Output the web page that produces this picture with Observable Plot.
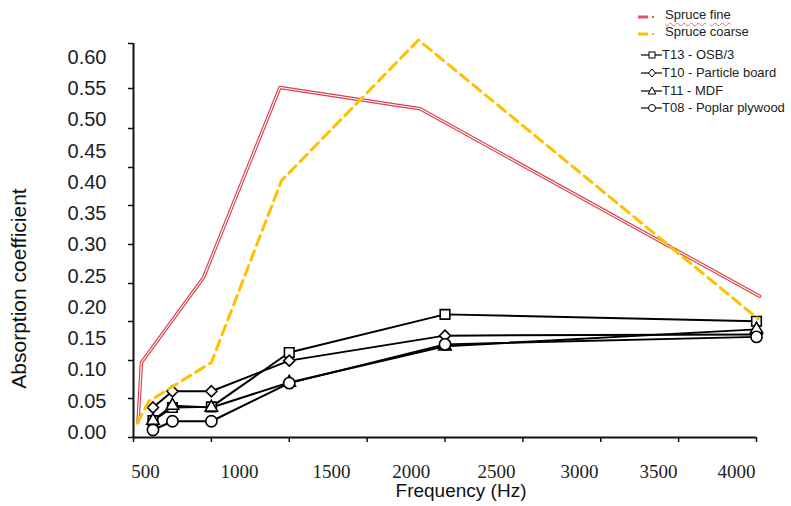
<!DOCTYPE html>
<html><head><meta charset="utf-8">
<script src="https://cdn.jsdelivr.net/npm/d3@7"></script>
<script src="https://cdn.jsdelivr.net/npm/@observablehq/plot@0.6"></script>
<style>
body{margin:0;background:#fff;}
#wrap{position:relative;width:791px;height:506px;font-family:"Liberation Sans",Arial,sans-serif;}
.lg{position:absolute;display:flex;align-items:center;height:16px;line-height:16px;font-size:13px;color:#222;white-space:nowrap;}
.lg svg{display:block;}
.sq{text-decoration:underline wavy #e07070;text-decoration-thickness:1px;text-underline-offset:3px;}
</style></head><body><div id="wrap"></div>
<script>
// ---- data ----
const boardFreq = [125, 250, 500, 1000, 2000, 4000];
const t13 = [0.019, 0.040, 0.041, 0.128, 0.189, 0.178];
const t10 = [0.040, 0.066, 0.066, 0.115, 0.155, 0.157];
const t11 = [0.019, 0.043, 0.040, 0.080, 0.138, 0.165];
const t08 = [0.004, 0.018, 0.018, 0.079, 0.141, 0.153];
const fineFreq = [29, 51, 450, 940, 1840, 4020];
const spruceFine = [0.017, 0.112, 0.248, 0.552, 0.518, 0.218];
const coarseFreq = [24, 99, 500, 950, 1830, 4010];
const spruceCoarse = [0.015, 0.050, 0.112, 0.403, 0.628, 0.182];
const boardNames = ["T13 - OSB/3", "T10 - Particle board", "T11 - MDF", "T08 - Poplar plywood"];
const spruceNames = ["Spruce fine", "Spruce coarse"];
const xTickMarks = [0, 500, 1000, 1500, 2000, 2500, 3000, 3500, 4000];
const xTickLabels = ["500", "1000", "1500", "2000", "2500", "3000", "3500", "4000"];
const xTickLabelAt = [77, 680, 1271, 1784, 2330, 2863, 3370, 3871];
const yTickMarks = [-0.008, 0.0544, 0.1152, 0.1776, 0.2384, 0.3008, 0.3632, 0.424, 0.4864, 0.5504, 0.6224];
const yTickLabels = ["0.00","0.05","0.10","0.15","0.20","0.25","0.30","0.35","0.40","0.45","0.50","0.55","0.60"];
const yTickLabelAt = [0, 0.05, 0.10, 0.15, 0.20, 0.25, 0.30, 0.35, 0.40, 0.45, 0.50, 0.55, 0.60];
const yDomain = [-0.008, 0.6224];
const xDomain = [0, 4000];

// ---- tables ----
const boardSeries = [t13, t10, t11, t08];
const boardSymbols = ["square", "diamond2", "triangle", "circle"];
const boardR = [5.4, 5.0, 4.6, 5.6];
const boardData = boardSeries.flatMap((vals, s) => vals.map((v, i) => ({series: boardNames[s], f: boardFreq[i], a: v})));
const fineData = fineFreq.map((f, i) => ({f, a: spruceFine[i]}));
const coarseData = coarseFreq.map((f, i) => ({f, a: spruceCoarse[i]}));
const xLab = xTickLabels.map((t, i) => ({t, v: xTickLabelAt[i]}));
const yLab = yTickLabels.map((t, i) => ({t, v: yTickLabelAt[i]}));

const sans = "Liberation Sans, Arial, sans-serif";
const serif = "Liberation Serif, Times New Roman, serif";

const marks = [
  Plot.ruleX([0], {stroke: "#111", strokeWidth: 2}),
  Plot.ruleY([yDomain[0]], {stroke: "#111", strokeWidth: 2}),
  Plot.axisX(xTickMarks, {tickSize: 5, tickFormat: () => "", strokeWidth: 1.5, label: null}),
  Plot.axisY(yTickMarks, {tickSize: 5, tickFormat: () => "", strokeWidth: 1.5, label: null}),
  Plot.text(yLab, {y: "v", text: "t", frameAnchor: "left", textAnchor: "end", lineAnchor: "middle", dx: -27, fontSize: 20, fontFamily: sans, fill: "#222"}),
  Plot.text(xLab, {x: "v", text: "t", frameAnchor: "bottom", textAnchor: "middle", lineAnchor: "middle", dy: 34, fontSize: 19, fontFamily: serif, fill: "#222"}),
  Plot.text(["Absorption coefficient"], {text: d => d, frameAnchor: "left", textAnchor: "middle", lineAnchor: "middle", rotate: -90, dx: -114, dy: 48, fontSize: 21, fontFamily: sans, fill: "#111"}),
  Plot.text(["Frequency (Hz)"], {text: d => d, frameAnchor: "bottom", textAnchor: "middle", lineAnchor: "middle", dx: 16, dy: 53, fontSize: 19, fontFamily: sans, fill: "#111"}),
  Plot.line(boardData, {x: "f", y: "a", z: "series", stroke: "#000", strokeWidth: 2})
];
boardNames.forEach((n, s) => {
  marks.push(Plot.dot(boardData.filter(d => d.series === n), {x: "f", y: "a", symbol: () => boardSymbols[s], r: boardR[s], fill: "white", stroke: "#000", strokeWidth: 1.6}));
});
marks.push(
  Plot.line(fineData, {x: "f", y: "a", stroke: "#d8404a", strokeWidth: 3.4}),
  Plot.line(fineData, {x: "f", y: "a", stroke: "#fff", strokeWidth: 1.1}),
  Plot.line(coarseData, {x: "f", y: "a", stroke: "#FFC000", strokeWidth: 3, strokeDasharray: "10,6"})
);

const chart = Plot.plot({
  width: 791, height: 506,
  marginLeft: 133, marginRight: 35, marginTop: 43, marginBottom: 69,
  x: {type: "linear", domain: xDomain},
  y: {type: "linear", domain: yDomain},
  style: {fontFamily: sans, color: "#111", background: "white", overflow: "visible"},
  marks
});
const wrap = document.getElementById("wrap");
wrap.appendChild(chart);

// ---- legend (HTML overlay) ----
const lgTops = [7, 24, 47, 65, 83, 100];
function row(top, left, svgHtml, label) {
  const d = document.createElement("div");
  d.className = "lg";
  d.style.top = top + "px";
  d.style.left = left + "px";
  d.innerHTML = svgHtml;
  d.appendChild(label);
  wrap.appendChild(d);
}
// spruce rows
const sColors = ["#e05560", "#FFC000"];
spruceNames.forEach((n, i) => {
  const svg = `<svg width="29" height="16"><line x1="2" x2="12" y1="10" y2="10" stroke="${sColors[i]}" stroke-width="3"/><line x1="16" x2="18" y1="10" y2="10" stroke="${sColors[i]}" stroke-width="2"/></svg>`;
  const span = document.createElement("span");
  if (i === 0) {
    n.split(" ").forEach((w, k) => {
      if (k) span.appendChild(document.createTextNode(" "));
      const s = document.createElement("span"); s.className = "sq"; s.textContent = w; span.appendChild(s);
    });
  } else span.textContent = n;
  row(lgTops[i], 636, svg, span);
});
// board rows
const lgSym = [
  `<rect x="8" y="5" width="6" height="6" fill="white" stroke="#000" stroke-width="1"/>`,
  `<path d="M11,4 L14.5,8 L11,12 L7.5,8Z" fill="white" stroke="#000" stroke-width="1"/>`,
  `<path d="M11,4 L14.8,11 L7.2,11Z" fill="white" stroke="#000" stroke-width="1"/>`,
  `<circle cx="11" cy="8" r="3.5" fill="white" stroke="#000" stroke-width="1"/>`
];
boardNames.forEach((n, i) => {
  const svg = `<svg width="21" height="16"><line x1="0" x2="21" y1="8" y2="8" stroke="#000" stroke-width="1.2"/>${lgSym[i]}</svg>`;
  const span = document.createElement("span");
  span.textContent = n;
  row(lgTops[i + 2], 641, svg, span);
});
</script>
</body></html>
